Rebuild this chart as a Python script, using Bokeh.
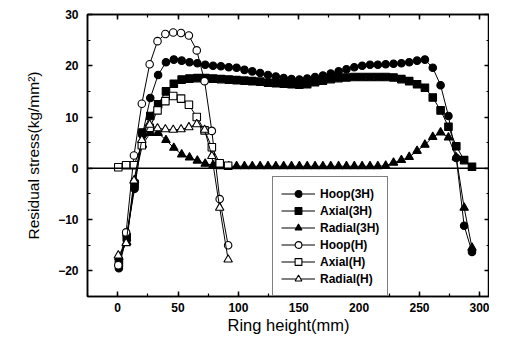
from bokeh.plotting import figure
from bokeh.models import LinearAxis, SingleIntervalTicker, Span, Range1d
from bokeh.embed import file_html
from bokeh.resources import INLINE

# ---- data ----
x_3h = [1, 7.5, 14, 20.5, 27, 33.5, 40, 46.5, 53, 59.5, 66, 72.5, 79, 85.5, 92,
        98.5, 105, 111.5, 118, 124.5, 131, 137.5, 144, 150.5, 157, 163.5, 170,
        176.5, 183, 189.5, 196, 202.5, 209, 215.5, 222, 228.5, 235, 241.5, 248,
        254.5, 261, 267.5, 274, 280.5, 287, 293.5]
hoop_3h = [-19.5, -13.0, -4.0, 6.5, 13.7, 18.2, 20.7, 21.2, 21.0, 20.7, 20.5, 20.2,
           20.0, 19.9, 19.7, 19.6, 19.2, 18.9, 18.6, 18.2, 17.9, 17.6, 17.4, 17.3,
           17.5, 17.8, 18.1, 18.5, 18.9, 19.3, 19.7, 20.0, 20.2, 20.2, 20.3, 20.4,
           20.5, 20.7, 21.0, 21.2, 19.6, 16.2, 10.2, 2.0, -11.2, -16.3]
axial_3h = [-18.5, -13.5, -3.0, 7.0, 10.2, 12.5, 15.0, 16.5, 17.3, 17.5, 17.6, 17.6,
            17.5, 17.4, 17.3, 17.2, 17.1, 17.0, 16.9, 16.7, 16.6, 16.5, 16.4, 16.3,
            16.4, 16.8, 17.1, 17.4, 17.6, 17.7, 17.8, 17.8, 17.8, 17.8, 17.8, 17.7,
            17.4, 17.0, 16.4, 15.7, 13.8, 11.3, 8.1, 4.3, 1.6, 0.3]
radial_3h = [-17.3, -14.4, -2.3, 4.6, 6.9, 6.9, 5.5, 4.0, 2.7, 2.1, 1.5, 0.9,
             0.6, 0.4, 0.4, 0.4, 0.4, 0.4, 0.4, 0.4, 0.4, 0.4, 0.4, 0.4,
             0.4, 0.4, 0.4, 0.4, 0.4, 0.4, 0.4, 0.4, 0.4, 0.4, 0.5, 1.1,
             1.6, 2.2, 3.4, 4.6, 6.1, 7.0, 6.0, 2.1, -7.7, -15.5]

x_h = [0.5, 7, 13.5, 20, 26.5, 33, 39.5, 46, 52.5, 59, 65.5, 72, 78, 84.5, 91.5]
hoop_h = [-18.9, -12.5, 2.5, 12.6, 20.3, 24.8, 26.2, 26.5, 26.4, 25.9, 23.0, 17.0,
          7.3, -6.0, -15.0]
axial_h = [0.2, 0.6, 0.6, 4.5, 7.9, 11.3, 13.1, 14.1, 13.6, 12.4, 10.0, 7.4, 4.1,
           1.0, 0.5]
radial_h = [-17.0, -14.6, -2.4, 5.5, 8.5, 7.8, 7.6, 7.5, 7.6, 8.0, 8.6, 7.5, 2.4,
            -7.7, -17.8]

x_label = "Ring height(mm)"
y_label = "Residual stress(kg/mm\u00b2)"

FONT = "Liberation Sans"

p = figure(width=489, height=336, output_backend="svg", toolbar_location=None,
           x_range=Range1d(-25, 308), y_range=Range1d(-25, 30),
           x_axis_location=None, y_axis_location=None,
           min_border_left=87, min_border_top=14, min_border_bottom=38,
           min_border_right=0)
p.grid.grid_line_color = None
p.outline_line_color = "black"
p.outline_line_width = 1.5
p.background_fill_color = "white"
p.border_fill_color = "white"


def style_axis(ax, show_labels=True):
    ax.axis_line_color = "black"
    ax.axis_line_width = 1.5
    ax.major_tick_in = 5
    ax.major_tick_out = 0
    ax.minor_tick_in = 3
    ax.minor_tick_out = 0
    ax.major_tick_line_width = 1.5
    ax.minor_tick_line_width = 1.2
    ax.major_tick_line_color = "black"
    ax.minor_tick_line_color = "black"
    if show_labels:
        ax.major_label_text_font = FONT
        ax.major_label_text_font_style = "bold"
        ax.major_label_text_font_size = "12px"
        ax.major_label_text_color = "black"
        ax.axis_label_text_font = FONT
        ax.axis_label_text_font_style = "normal"
        ax.axis_label_text_color = "black"
    else:
        ax.major_label_text_font_size = "1px"
        ax.major_label_text_color = None
        ax.major_label_standoff = 0


xb = LinearAxis(ticker=SingleIntervalTicker(interval=50, num_minor_ticks=2),
                axis_label=x_label)
style_axis(xb)
xb.major_label_standoff = 6
xb.axis_label_text_font_size = "16.5px"
xb.axis_label_standoff = 1
p.add_layout(xb, "below")

yl = LinearAxis(ticker=SingleIntervalTicker(interval=10, num_minor_ticks=2),
                axis_label=y_label)
style_axis(yl)
yl.major_label_standoff = 9
yl.axis_label_text_font_size = "15.5px"
yl.axis_label_standoff = 13
p.add_layout(yl, "left")

xt = LinearAxis(ticker=SingleIntervalTicker(interval=50, num_minor_ticks=2))
style_axis(xt, False)
p.add_layout(xt, "above")

yr = LinearAxis(ticker=SingleIntervalTicker(interval=10, num_minor_ticks=2))
style_axis(yr, False)
p.add_layout(yr, "right")

p.add_layout(Span(location=0, dimension="width", line_color="black", line_width=1.5))

series = [
    (x_3h, hoop_3h, "circle", "black", "Hoop(3H)"),
    (x_3h, axial_3h, "square", "black", "Axial(3H)"),
    (x_3h, radial_3h, "triangle", "black", "Radial(3H)"),
    (x_h, hoop_h, "circle", "white", "Hoop(H)"),
    (x_h, axial_h, "square", "white", "Axial(H)"),
    (x_h, radial_h, "triangle", "white", "Radial(H)"),
]
for xs, ys, mk, fill, lab in series:
    p.line(xs, ys, line_color="black", line_width=1, legend_label=lab)
    p.scatter(xs, ys, marker=mk, size=7.5 if mk != "triangle" else 8.5,
              fill_color=fill, line_color="black", line_width=1.1,
              legend_label=lab)

lg = p.legend[0]
lg.location = (185, 0)
lg.margin = 0
lg.padding = 8
lg.spacing = 0
lg.label_height = 17
lg.glyph_height = 17
lg.glyph_width = 34
lg.label_standoff = 5
lg.label_text_font = FONT
lg.label_text_font_style = "bold"
lg.label_text_font_size = "12px"
lg.label_text_color = "black"
lg.border_line_color = "black"
lg.border_line_width = 1.5
lg.background_fill_color = "white"
lg.background_fill_alpha = 1.0

open("out.html", "w").write(file_html(p, INLINE))
